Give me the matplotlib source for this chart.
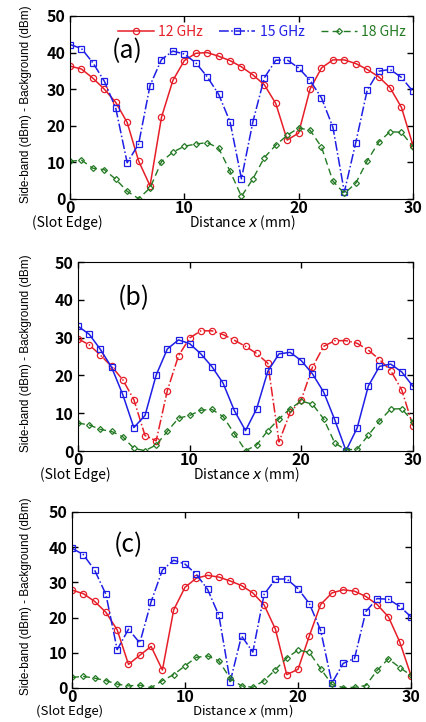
import matplotlib.pyplot as plt

plt.rcParams['font.family'] = ['Noto Sans CJK JP', 'DejaVu Sans']

x = list(range(31))

# panel (a)
a_12 = [36.3, 35.5, 33, 30, 26.4, 20.9, 10.4, 3.6, 22.3, 32.4, 37.8, 39.8, 40.0, 39.0, 37.8, 36.1,
        33.9, 31.2, 26.1, 16.1, 18.0, 30.0, 35.8, 38.0, 38.0, 37.0, 35.4, 33.4, 30.4, 25.0, 14.7]
a_15 = [42.2, 41.1, 37.2, 32.2, 24.8, 9.9, 15.0, 31.0, 38.1, 40.4, 39.6, 37.2, 33.4, 28.6, 21.1, 5.5,
        21.1, 33.1, 37.9, 38.0, 35.8, 32.4, 27.6, 19.6, 1.9, 15.4, 29.7, 34.9, 35.4, 33.2, 29.4]
a_18 = [10.3, 10.6, 8.4, 8.0, 5.4, 2.1, 0.1, 3.0, 10.2, 12.8, 14.4, 15.0, 15.4, 13.9, 7.6, 0.7,
        5.5, 11.3, 14.7, 17.4, 19.4, 18.8, 14.2, 4.9, 1.5, 4.3, 10.4, 15.5, 18.4, 18.2, 14.3]

# panel (b)
b_12 = [29.7, 28.1, 25.4, 22.4, 18.9, 13.6, 4.1, 2.7, 16.0, 25.2, 29.9, 31.8, 31.8, 30.8, 29.3, 27.7,
        25.8, 23.2, 2.4, 10.2, 13.6, 22.2, 27.7, 29.2, 29.2, 28.5, 26.7, 24.2, 21.3, 16.1, 6.6]
b_15 = [33.0, 30.9, 26.9, 22.2, 15.0, 6.2, 9.4, 20.1, 27.0, 29.4, 28.4, 25.7, 22.3, 17.9, 10.7, 5.4,
        11.2, 21.1, 25.7, 26.1, 23.9, 20.4, 15.6, 8.2, 0.1, 6.1, 17.2, 22.4, 23.0, 20.9, 17.1]
b_18 = [7.4, 6.9, 5.7, 5.2, 3.8, 0.7, 0.1, 1.6, 5.2, 8.7, 9.4, 10.8, 11.0, 9.1, 4.6, 0.1,
        1.6, 5.4, 8.5, 11.2, 13.2, 12.4, 8.5, 2.1, 0.3, 0.5, 4.2, 7.9, 11.1, 11.2, 7.7]

# panel (c)
c_12 = [27.8, 26.8, 24.6, 21.5, 16.5, 6.7, 9.3, 11.8, 5.1, 22.2, 28.6, 31.2, 32.0, 31.5, 30.4, 29.1,
        27.0, 23.6, 16.7, 3.8, 5.3, 14.8, 23.7, 27.0, 27.9, 27.5, 26.0, 23.7, 20.2, 13.1, 3.5]
c_15 = [39.7, 37.9, 33.5, 26.6, 10.9, 16.7, 12.8, 24.5, 33.5, 36.3, 35.2, 32.3, 28.0, 20.6, 1.8, 14.8,
        10.2, 26.6, 30.9, 31.0, 28.2, 24.0, 16.4, 1.4, 7.0, 8.4, 21.7, 25.4, 25.2, 23.2, 20.2]
c_18 = [3.0, 3.3, 2.8, 2.1, 1.1, 0.6, 0.8, 0.1, 2.1, 3.8, 6.3, 8.7, 9.1, 7.7, 2.7, 0.6,
        0.2, 2.1, 5.2, 8.5, 10.8, 10.1, 5.5, 1.0, 0.1, 0.2, 0.7, 5.0, 8.3, 5.8, 3.6]

RED = '#e61e28'
BLUE = '#1e1ee6'
GREEN = '#237a23'

fig = plt.figure(figsize=(4.27, 7.22), dpi=100)
ax_a = fig.add_axes([0.164, 0.7244, 0.803, 0.2535])
ax_b = fig.add_axes([0.1827, 0.3753, 0.7845, 0.2618])
ax_c = fig.add_axes([0.1686, 0.0471, 0.794, 0.2438])


def draw(ax, y12, y15, y18, ls12, ls15, tag, label_x, low=-17, fs=10):
    ax.plot(x, y12, color=RED, ls=ls12, lw=1.1, marker='o', ms=4.5, mfc='none', mew=0.9, label='12 GHz')
    ax.plot(x, y15, color=BLUE, ls=ls15, lw=1.1, marker='s', ms=4.5, mfc='none', mew=0.9, label='15 GHz')
    ax.plot(x, y18, color=GREEN, ls=(0, (5, 3)), lw=1.0, marker='D', ms=3, mfc='none', mew=0.9, label='18 GHz')
    ax.set_xlim(0, 30)
    ax.set_ylim(0, 50)
    ax.set_xticks([0, 10, 20, 30])
    ax.set_yticks([0, 10, 20, 30, 40, 50])
    ax.tick_params(direction='in', top=True, right=True, length=4, width=1, pad=3,
                   labelsize=11.5)
    ax.tick_params(axis='x', pad=1)
    for lab in ax.get_xticklabels() + ax.get_yticklabels():
        lab.set_fontweight('bold')
    ax.set_ylabel('Side-band (dBm) - Background (dBm)', fontsize=8.5,
                  family=['Liberation Sans', 'DejaVu Sans'])
    ax.yaxis.set_label_coords(label_x, 0.52)
    ax.text(5.0, 40.5, tag, fontsize=18, ha='center', va='center')
    ax.annotate('(Slot Edge)', xy=(-0.2, 0), xycoords='data', xytext=(0, low),
                textcoords='offset points', fontsize=fs, ha='center', va='center',
                annotation_clip=False)
    ax.annotate('Distance $\\it{x}$ (mm)', xy=(15.1, 0), xycoords='data', xytext=(0, low),
                textcoords='offset points', fontsize=fs, ha='center', va='center',
                annotation_clip=False)


draw(ax_a, a_12, a_15, a_18, '-', '-.', '(a)', -0.112)
draw(ax_b, b_12, b_15, b_18, '-.', '-', '(b)', -0.138)
draw(ax_c, c_12, c_15, c_18, '-', '-.', '(c)', -0.119, low=-16.5, fs=9.5)

ax_a.legend(loc='upper right', ncol=3, frameon=False, fontsize=10, labelcolor='linecolor',
            handlelength=2.6, handletextpad=0.3, columnspacing=1.2,
            borderaxespad=0.1, bbox_to_anchor=(1.0, 0.99))

fig.savefig('out.png', dpi=100)
